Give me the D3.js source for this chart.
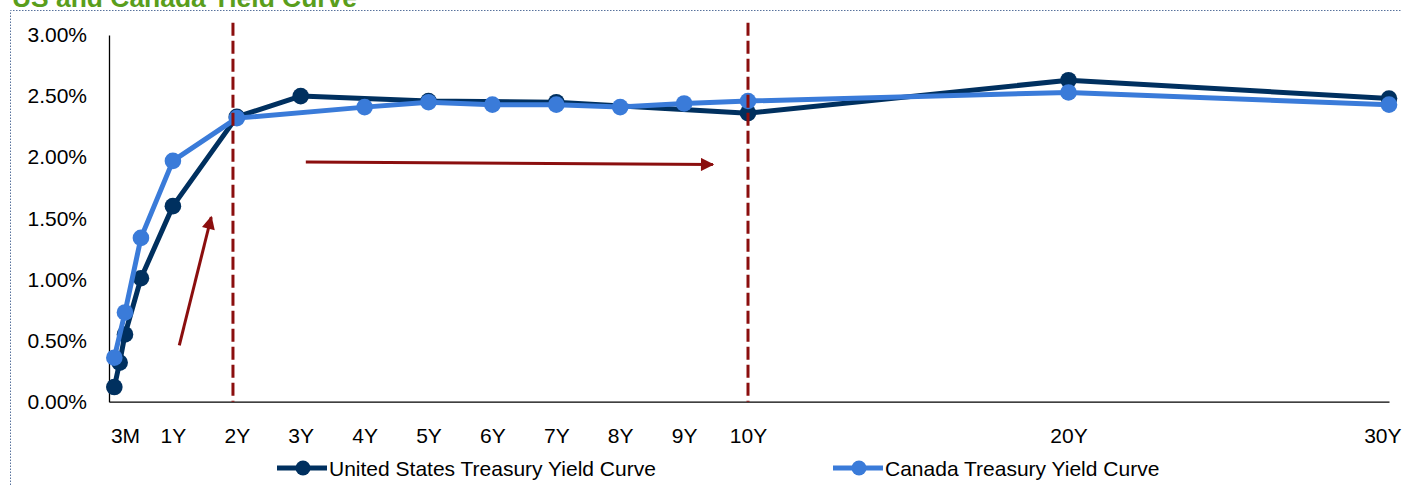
<!DOCTYPE html>
<html>
<head>
<meta charset="utf-8">
<script src="https://cdn.jsdelivr.net/npm/d3@7"></script>
<style>
  html, body { margin: 0; padding: 0; background: #ffffff; }
  svg { display: block; }
  text { font-family: "Liberation Sans", Arial, sans-serif; fill: #000; }
</style>
</head>
<body>
<svg id="chart" width="1402" height="485"></svg>
<script>
// ---- data ----
const title = "US and Canada Yield Curve";
const seriesNames = ["United States Treasury Yield Curve", "Canada Treasury Yield Curve"];
// maturities in years
const usMaturities = [1/12, 2/12, 0.25, 0.5, 1, 2, 3, 5, 7, 10, 20, 30];
const usYields     = [0.12, 0.32, 0.55, 1.01, 1.60, 2.33, 2.50, 2.46, 2.45, 2.36, 2.63, 2.48];
const caMaturities = [1/12, 0.25, 0.5, 1, 2, 4, 5, 6, 7, 8, 9, 10, 20, 30];
const caYields     = [0.36, 0.73, 1.34, 1.97, 2.32, 2.41, 2.45, 2.43, 2.43, 2.41, 2.44, 2.46, 2.53, 2.43];
const xTickValues = [0.25, 1, 2, 3, 4, 5, 6, 7, 8, 9, 10, 20, 30];
const xTickLabels = ["3M", "1Y", "2Y", "3Y", "4Y", "5Y", "6Y", "7Y", "8Y", "9Y", "10Y", "20Y", "30Y"];
const yTickValues = [0, 0.5, 1, 1.5, 2, 2.5, 3];
const dashedMarkers = [1.94, 10];          // years
const arrows = [                            // [x1 yrs, y1 %, x2 yrs, y2 %]
  [1.10, 0.46, 1.60, 1.51],
  [3.08, 1.96, 9.45, 1.94]
];

// ---- styles ----
const usColor = "#00305f";
const caColor = "#3a7bd9";
const redColor = "#8b0e0e";

const svg = d3.select("#chart");

const x = d3.scaleLinear().domain([0, 10, 30]).range([109, 748, 1389]);
const y = d3.scaleLinear().domain([0, 3]).range([401.7, 35]);

// frame (dotted)
svg.append("path")
  .attr("d", "M10.5,485 V10.5 H1402")
  .attr("fill", "none")
  .attr("stroke", "#58729c")
  .attr("stroke-width", 1)
  .attr("stroke-dasharray", "1.5,1.5");

// title (clipped at top, as in the original)
svg.append("text")
  .attr("x", 12).attr("y", 6.5)
  .attr("font-size", 26).attr("font-weight", "bold")
  .attr("textLength", 345).attr("lengthAdjust", "spacingAndGlyphs")
  .style("fill", "#5a9e1c")
  .text(title);

// axes
const yAxis = d3.axisLeft(y).tickValues(yTickValues).tickSize(0).tickPadding(22)
  .tickFormat(d => d.toFixed(2) + "%");
const gy = svg.append("g").attr("transform", `translate(${x(0)},0)`).call(yAxis);
gy.select(".domain").attr("stroke", "#000").attr("stroke-width", 1.3);
gy.selectAll("text").attr("font-size", 21).style("font-family", "'Liberation Sans', Arial, sans-serif").attr("fill", "#000");

const xAxis = d3.axisBottom(x).tickValues(xTickValues).tickSize(0).tickPadding(26)
  .tickFormat((d, i) => xTickLabels[i]);
const gx = svg.append("g").attr("transform", `translate(0,${y(0)})`).call(xAxis);
gx.select(".domain").attr("stroke", "#000").attr("stroke-width", 1.3);
gx.selectAll("text").attr("font-size", 21).style("font-family", "'Liberation Sans', Arial, sans-serif").attr("fill", "#000");
// keep the last label inside the frame
gx.selectAll(".tick").filter(d => d === 30).select("text").attr("text-anchor", "end").attr("dx", 12);

// series
const line = d3.line().x(d => x(d[0])).y(d => y(d[1]));
function drawSeries(mats, vals, color) {
  const pts = mats.map((m, i) => [m, vals[i]]);
  svg.append("path").datum(pts)
    .attr("d", line).attr("fill", "none")
    .attr("stroke", color).attr("stroke-width", 5)
    .attr("stroke-linejoin", "round");
  svg.append("g").selectAll("circle").data(pts).join("circle")
    .attr("cx", d => x(d[0])).attr("cy", d => y(d[1])).attr("r", 8.3)
    .attr("fill", color);
}
drawSeries(usMaturities, usYields, usColor);
drawSeries(caMaturities, caYields, caColor);

// dashed markers
svg.append("g").selectAll("line").data(dashedMarkers).join("line")
  .attr("x1", d => x(d)).attr("x2", d => x(d))
  .attr("y1", y(3.1)).attr("y2", y(0))
  .attr("stroke", redColor).attr("stroke-width", 3)
  .attr("stroke-dasharray", "13,5");

// arrows
svg.append("defs").append("marker")
  .attr("id", "ah").attr("viewBox", "0 0 10 10")
  .attr("refX", 9).attr("refY", 5)
  .attr("markerWidth", 4.8).attr("markerHeight", 4.4)
  .attr("markerUnits", "strokeWidth")
  .attr("orient", "auto")
  .append("path").attr("d", "M0,0 L10,5 L0,10 Z").attr("fill", redColor);
svg.append("g").selectAll("line").data(arrows).join("line")
  .attr("x1", d => x(d[0])).attr("y1", d => y(d[1]))
  .attr("x2", d => x(d[2])).attr("y2", d => y(d[3]))
  .attr("stroke", redColor).attr("stroke-width", 3)
  .attr("marker-end", "url(#ah)");

// legend
const legendItems = [
  { name: seriesNames[0], color: usColor, x0: 277 },
  { name: seriesNames[1], color: caColor, x0: 833 }
];
const lg = svg.append("g").selectAll("g").data(legendItems).join("g")
  .attr("transform", d => `translate(${d.x0},468)`);
lg.append("line").attr("x1", 0).attr("x2", 50).attr("y1", 0).attr("y2", 0)
  .attr("stroke", d => d.color).attr("stroke-width", 5);
lg.append("circle").attr("cx", 26).attr("cy", 0).attr("r", 7.5).attr("fill", d => d.color);
lg.append("text").attr("x", 52).attr("y", 7.5).attr("font-size", 21)
  .text(d => d.name);
</script>
</body>
</html>
